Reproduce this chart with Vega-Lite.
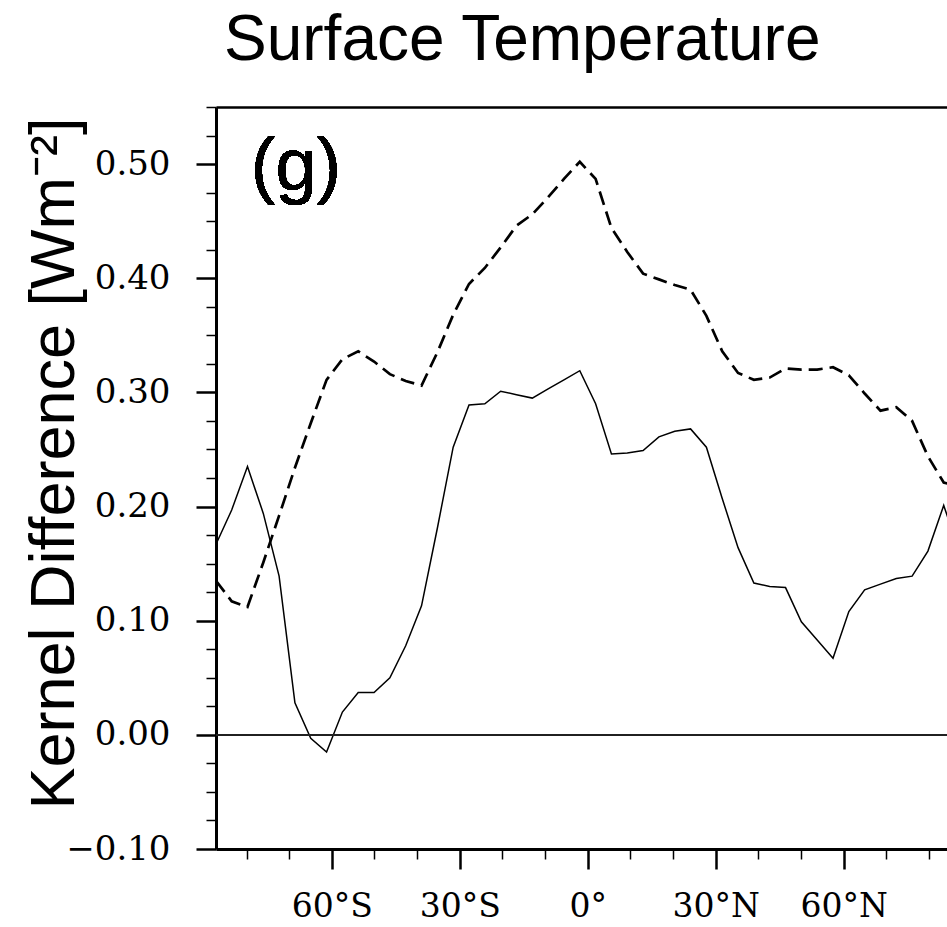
{
  "$schema": "https://vega.github.io/schema/vega-lite/v6.json",
  "autosize": "none",
  "padding": {"left": 216, "top": 107, "right": 0, "bottom": 78},
  "width": 731,
  "height": 742,
  "background": "white",
  "config": {
    "view": {"stroke": null},
    "axis": {"grid": false, "labelOverlap": false, "labelFlush": false, "domainColor": "black", "tickColor": "black", "labelColor": "black", "titleColor": "black"}
  },
  "title": {
    "text": "Surface Temperature",
    "anchor": "start",
    "frame": "group",
    "dx": 8,
    "dy": 50,
    "offset": 32,
    "baseline": "alphabetic",
    "font": "Liberation Sans",
    "fontSize": 64,
    "fontWeight": "normal",
    "color": "black"
  },
  "data": {
    "values": [
      {"lat": -87.159, "a": 0.167, "b": 0.135},
      {"lat": -83.479, "a": 0.197, "b": 0.117},
      {"lat": -79.777, "a": 0.235, "b": 0.112},
      {"lat": -76.070, "a": 0.194, "b": 0.151},
      {"lat": -72.362, "a": 0.139, "b": 0.192},
      {"lat": -68.652, "a": 0.028, "b": 0.234},
      {"lat": -64.942, "a": -0.003, "b": 0.273},
      {"lat": -61.232, "a": -0.015, "b": 0.311},
      {"lat": -57.521, "a": 0.020, "b": 0.329},
      {"lat": -53.810, "a": 0.037, "b": 0.336},
      {"lat": -50.099, "a": 0.037, "b": 0.327},
      {"lat": -46.389, "a": 0.050, "b": 0.316},
      {"lat": -42.678, "a": 0.078, "b": 0.310},
      {"lat": -38.967, "a": 0.113, "b": 0.306},
      {"lat": -35.256, "a": 0.181, "b": 0.335},
      {"lat": -31.545, "a": 0.252, "b": 0.368},
      {"lat": -27.834, "a": 0.289, "b": 0.395},
      {"lat": -24.123, "a": 0.290, "b": 0.409},
      {"lat": -20.411, "a": 0.301, "b": 0.427},
      {"lat": -16.700, "a": 0.298, "b": 0.446},
      {"lat": -12.989, "a": 0.295, "b": 0.456},
      {"lat": -9.278, "a": 0.303, "b": 0.471},
      {"lat": -5.567, "a": 0.311, "b": 0.487},
      {"lat": -1.856, "a": 0.319, "b": 0.502},
      {"lat": 1.856, "a": 0.290, "b": 0.487},
      {"lat": 5.567, "a": 0.246, "b": 0.444},
      {"lat": 9.278, "a": 0.247, "b": 0.423},
      {"lat": 12.989, "a": 0.249, "b": 0.404},
      {"lat": 16.700, "a": 0.261, "b": 0.399},
      {"lat": 20.411, "a": 0.266, "b": 0.394},
      {"lat": 24.123, "a": 0.268, "b": 0.390},
      {"lat": 27.834, "a": 0.252, "b": 0.367},
      {"lat": 31.545, "a": 0.207, "b": 0.336},
      {"lat": 35.256, "a": 0.164, "b": 0.317},
      {"lat": 38.967, "a": 0.133, "b": 0.311},
      {"lat": 42.678, "a": 0.130, "b": 0.313},
      {"lat": 46.389, "a": 0.129, "b": 0.321},
      {"lat": 50.099, "a": 0.099, "b": 0.320},
      {"lat": 53.810, "a": 0.083, "b": 0.320},
      {"lat": 57.521, "a": 0.067, "b": 0.322},
      {"lat": 61.232, "a": 0.108, "b": 0.315},
      {"lat": 64.942, "a": 0.127, "b": 0.299},
      {"lat": 68.652, "a": 0.132, "b": 0.284},
      {"lat": 72.362, "a": 0.137, "b": 0.287},
      {"lat": 76.070, "a": 0.139, "b": 0.275},
      {"lat": 79.777, "a": 0.161, "b": 0.244},
      {"lat": 83.479, "a": 0.201, "b": 0.221},
      {"lat": 87.159, "a": 0.160, "b": 0.218}
    ]
  },
  "resolve": {"axis": {"x": "independent", "y": "independent"}},
  "layer": [
    {
      "mark": {"type": "line", "color": "black", "strokeWidth": 1.5, "clip": true},
      "encoding": {
        "x": {
          "field": "lat", "type": "quantitative",
          "scale": {"domain": [-87.159, 84.25], "nice": false, "zero": false},
          "axis": {
            "orient": "bottom", "title": null,
            "values": [-60, -30, 0, 30, 60],
            "labelExpr": "datum.value < 0 ? abs(datum.value) + '°S' : (datum.value > 0 ? datum.value + '°N' : '0°')",
            "domainWidth": 3, "tickSize": 20, "tickWidth": 2.5,
            "labelFont": "DejaVu Serif", "labelFontSize": 33, "labelPadding": 21
          }
        },
        "y": {
          "field": "a", "type": "quantitative",
          "scale": {"domain": [-0.1, 0.55], "nice": false, "zero": false},
          "axis": {
            "orient": "left",
            "values": [-0.1, 0, 0.1, 0.2, 0.3, 0.4, 0.5],
            "format": ".2f",
            "domainWidth": 3, "tickSize": 20, "tickWidth": 2.5,
            "labelFont": "DejaVu Serif", "labelFontSize": 34, "labelPadding": 26,
            "title": "Kernel Difference [Wm⁻²]",
            "titleFont": "Liberation Sans", "titleFontSize": 63, "titleFontWeight": "normal",
            "titleAngle": 270, "titleAlign": "center", "titleBaseline": "alphabetic",
            "titleX": -143, "titleY": 356
          }
        }
      }
    },
    {
      "mark": {"type": "line", "color": "black", "strokeWidth": 2.7, "strokeDash": [14, 7], "clip": true},
      "encoding": {
        "x": {
          "field": "lat", "type": "quantitative",
          "axis": {
            "orient": "bottom", "title": null, "domain": false, "labels": false,
            "values": [-80, -70, -50, -40, -20, -10, 10, 20, 40, 50, 70, 80],
            "tickSize": 10, "tickWidth": 1.5
          }
        },
        "y": {
          "field": "b", "type": "quantitative",
          "axis": {
            "orient": "left", "title": null, "domain": false, "labels": false,
            "values": [-0.075, -0.05, -0.025, 0.025, 0.05, 0.075, 0.125, 0.15, 0.175, 0.225, 0.25, 0.275, 0.325, 0.35, 0.375, 0.425, 0.45, 0.475, 0.525, 0.55],
            "tickSize": 10, "tickWidth": 1.5
          }
        }
      }
    },
    {
      "mark": {"type": "text", "text": "(g)", "align": "left", "baseline": "alphabetic", "font": "Liberation Sans", "fontSize": 74, "color": "black"},
      "encoding": {
        "x": {
          "datum": -79.0, "type": "quantitative",
          "axis": {"orient": "top", "title": null, "ticks": false, "labels": false, "domainWidth": 2.5}
        },
        "y": {"datum": 0.477, "type": "quantitative", "axis": null}
      }
    },
    {
      "mark": {"type": "rule", "color": "#222222", "strokeWidth": 1},
      "encoding": {
        "y": {"datum": 0, "type": "quantitative", "axis": null}
      }
    }
  ]
}
